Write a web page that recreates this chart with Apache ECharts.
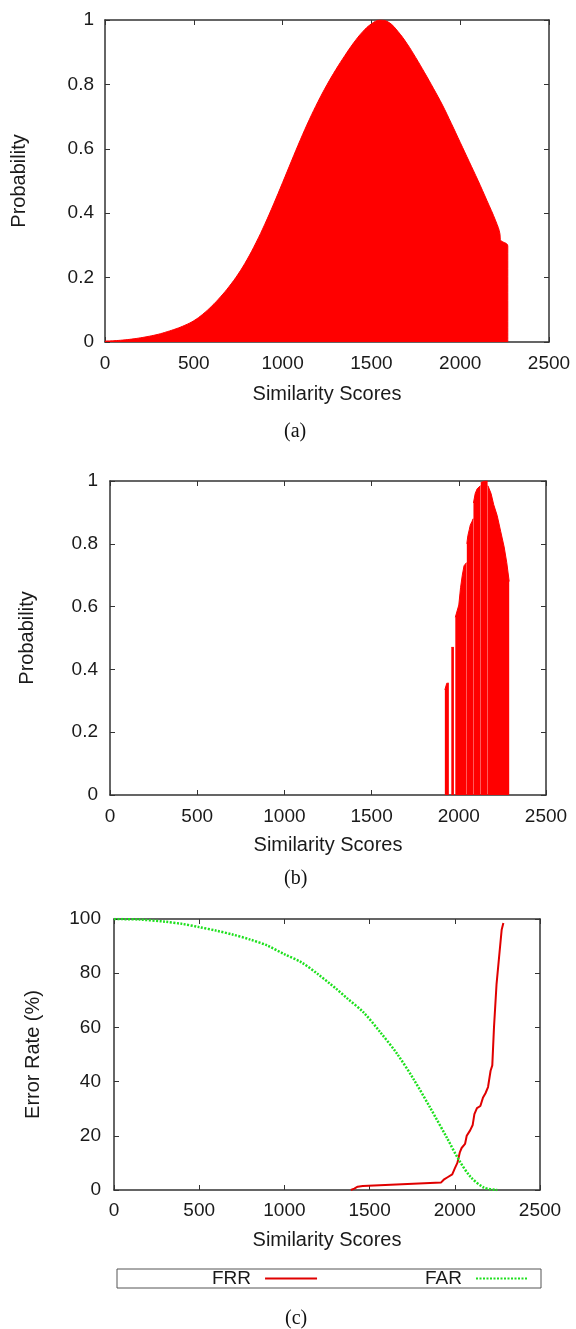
<!DOCTYPE html>
<html>
<head>
<meta charset="utf-8">
<script src="https://cdn.jsdelivr.net/npm/echarts@6/dist/echarts.min.js"></script>
<style>
  html, body { margin: 0; padding: 0; background: #fff; }
  #main { width: 576px; height: 1329px; }
</style>
</head>
<body>
<div id="main"></div>
<script>
// (a) probability curve
var aScores = [0, 50, 100, 150, 200, 250, 300, 350, 400, 450, 500, 550, 600, 650, 700, 750, 800, 850, 900, 950,
  1000, 1050, 1100, 1150, 1200, 1250, 1300, 1350, 1400, 1450, 1500, 1550, 1600, 1650, 1700, 1750, 1800, 1850,
  1900, 1950, 2000, 2050, 2100, 2150, 2200, 2224, 2226, 2268, 2268];
var aProb = [0.003, 0.004, 0.006, 0.009, 0.013, 0.018, 0.024, 0.032, 0.041, 0.052, 0.066, 0.086, 0.111, 0.14,
  0.173, 0.211, 0.256, 0.308, 0.366, 0.429, 0.495, 0.562, 0.628, 0.69, 0.747, 0.799, 0.846, 0.889, 0.929,
  0.963, 0.988, 1.0, 0.992, 0.964, 0.927, 0.883, 0.836, 0.787, 0.736, 0.679, 0.62, 0.561, 0.502, 0.44,
  0.376, 0.335, 0.318, 0.298, 0];

// (b) impulses, null = white gap between blocks
var bScores = [1920, 1931, 1931, 1943, 1950, 1957, 1972, 1976, 1980, 1990, 2000, 2010, 2020, 2030, 2044, 2045,
  2046, 2052, 2060, 2066, 2075, 2082, 2083, 2084, 2094, 2105, 2115, 2124, 2125, 2126, 2135, 2150, 2165, 2166,
  2167, 2185, 2200, 2220, 2240, 2260, 2275, 2289];
var bProb = [0.335, 0.335, 0.356, 0.356, null, 0.47, 0.47, null, 0.566, 0.57, 0.605, 0.66, 0.70, 0.73, 0.74, null,
  0.80, 0.826, 0.845, 0.86, 0.87, 0.88, null, 0.93, 0.96, 0.975, 0.98, 0.985, null, 0.995, 1.0, 1.0, 1.0, null,
  0.985, 0.96, 0.925, 0.89, 0.84, 0.79, 0.74, 0.68];

// (c) error rates (%)
var farScores = [0, 150, 300, 400, 500, 600, 700, 800, 900, 1000, 1100, 1200, 1270, 1300, 1367, 1465, 1563,
  1661, 1759, 1857, 1955, 2024, 2092, 2171, 2249];
var farRate = [100, 99.8, 99.0, 98.2, 97.0, 95.7, 94.2, 92.4, 90.2, 87.0, 84.0, 79.5, 76.0, 74.5, 70.8, 65.5,
  58.2, 50.3, 40.8, 30.2, 19.1, 11.1, 4.9, 0.9, 0];
var frrScores = [1390, 1410, 1430, 1460, 1920, 1935, 1960, 1985, 2000, 2015, 2030, 2040, 2060, 2070, 2090, 2105,
  2115, 2130, 2150, 2165, 2180, 2195, 2210, 2220, 2230, 2245, 2260, 2275, 2285];
var frrRate = [0, 0.5, 1.2, 1.5, 2.8, 3.8, 4.8, 5.8, 8, 10, 14, 15.5, 17, 20, 22, 24, 28, 30.2, 31, 34, 35.7, 38,
  44, 46, 60, 76, 86, 96, 98.5];

var xTicks = { min: 0, max: 2500, interval: 500 };

function zip(xs, ys) {
  return xs.map(function (x, i) { return [x, ys[i] === null ? '-' : ys[i]]; });
}

var font = 'Liberation Sans, Arial, Helvetica, sans-serif';
var txt = { color: '#1a1a1a', fontSize: 19, fontFamily: font };
var nameTxt = { color: '#1a1a1a', fontSize: 20, fontFamily: font };
var axisLine = { show: true, onZero: false, lineStyle: { color: '#333', width: 1.5 } };
var tick = { show: true, inside: true, length: 5, lineStyle: { color: '#333', width: 1 } };
var plain = function (v) { return String(v); };

var grids = [
  { left: 105, top: 20, width: 444, height: 322 },
  { left: 110, top: 481, width: 436, height: 314 },
  { left: 114, top: 919, width: 426, height: 271 }
];

var xAxes = [], yAxes = [];
var yCfg = [
  { max: 1, interval: 0.2, name: 'Probability', nameGap: 76, margin: 11, xGap: 42, xMargin: 12 },
  { max: 1, interval: 0.2, name: 'Probability', nameGap: 73, margin: 12, xGap: 40, xMargin: 12 },
  { max: 100, interval: 20, name: 'Error Rate (%)', nameGap: 71, margin: 13, xGap: 40, xMargin: 11 }
];
grids.forEach(function (g, i) {
  var c = yCfg[i];
  xAxes.push({
    gridIndex: i, type: 'value', position: 'bottom', min: xTicks.min, max: xTicks.max, interval: xTicks.interval,
    axisLine: axisLine, axisTick: tick, splitLine: { show: false },
    axisLabel: Object.assign({ margin: c.xMargin, formatter: plain }, txt),
    name: 'Similarity Scores', nameLocation: 'middle', nameGap: c.xGap, nameTextStyle: nameTxt
  });
  xAxes.push({
    gridIndex: i, type: 'value', position: 'top', min: xTicks.min, max: xTicks.max, interval: xTicks.interval,
    axisLine: axisLine, axisTick: tick, splitLine: { show: false }, axisLabel: { show: false }
  });
  yAxes.push({
    gridIndex: i, type: 'value', position: 'left', min: 0, max: c.max, interval: c.interval,
    axisLine: axisLine, axisTick: tick, splitLine: { show: false },
    axisLabel: Object.assign({ margin: c.margin, formatter: plain }, txt),
    name: c.name, nameLocation: 'middle', nameGap: c.nameGap, nameTextStyle: nameTxt
  });
  yAxes.push({
    gridIndex: i, type: 'value', position: 'right', min: 0, max: c.max, interval: c.interval,
    axisLine: axisLine, axisTick: tick, splitLine: { show: false }, axisLabel: { show: false }
  });
});

var red = '#ff0000';
var serif = '20px "Liberation Serif", "Times New Roman", serif';
var option = {
  animation: false,
  backgroundColor: '#fff',
  grid: grids,
  xAxis: xAxes,
  yAxis: yAxes,
  legend: {
    data: ['FRR', 'FAR'],
    left: 117, top: 1269,
    align: 'right',
    itemWidth: 52, itemHeight: 12, itemGap: 107,
    padding: [0, 12, 0, 95],
    borderColor: '#555', borderWidth: 1,
    itemStyle: { opacity: 0 },
    textStyle: Object.assign({ padding: [0, 9, 0, 0] }, txt)
  },
  graphic: [
    { type: 'text', left: 284, top: 422, style: { text: '(a)', font: serif, fill: '#111' } },
    { type: 'text', left: 284, top: 869, style: { text: '(b)', font: serif, fill: '#111' } },
    { type: 'text', left: 285, top: 1309, style: { text: '(c)', font: serif, fill: '#111' } }
  ],
  series: [
    {
      name: 'a', type: 'line', xAxisIndex: 0, yAxisIndex: 0, data: zip(aScores, aProb),
      symbol: 'none', smooth: 0.4,
      lineStyle: { color: red, width: 1 }, itemStyle: { color: red },
      areaStyle: { color: red, opacity: 1 }
    },
    {
      name: 'b', type: 'line', xAxisIndex: 2, yAxisIndex: 2, data: zip(bScores, bProb),
      symbol: 'none', connectNulls: false, lineStyle: { color: red, width: 1 }, itemStyle: { color: red },
      areaStyle: { color: red, opacity: 1 }
    },
    {
      name: 'FRR', type: 'line', xAxisIndex: 4, yAxisIndex: 4, data: zip(frrScores, frrRate),
      symbol: 'none', lineStyle: { color: '#e00000', width: 2 }, itemStyle: { color: '#e00000' }
    },
    {
      name: 'FAR', type: 'line', xAxisIndex: 4, yAxisIndex: 4, data: zip(farScores, farRate),
      symbol: 'none', smooth: 0.3,
      lineStyle: { color: '#1ee01e', width: 2.5, type: [2, 1.5] }, itemStyle: { color: '#1ee01e' }
    }
  ]
};

echarts.init(document.getElementById('main')).setOption(option);
</script>
</body>
</html>
